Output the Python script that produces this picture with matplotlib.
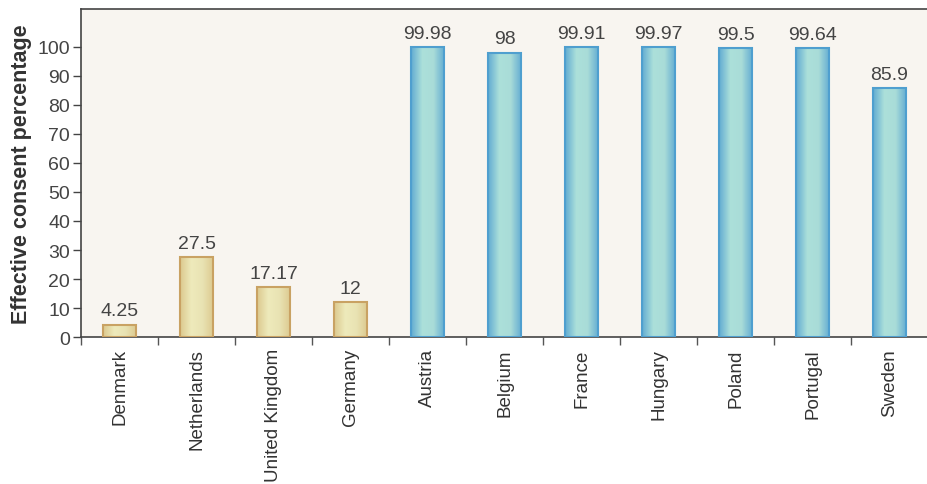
import matplotlib.pyplot as plt
import numpy as np
from matplotlib.colors import LinearSegmentedColormap

plt.rcParams['font.family'] = ['Liberation Sans', 'DejaVu Sans']

countries = ['Denmark', 'Netherlands', 'United Kingdom', 'Germany', 'Austria',
             'Belgium', 'France', 'Hungary', 'Poland', 'Portugal', 'Sweden']
consent = [4.25, 27.5, 17.17, 12, 99.98, 98, 99.91, 99.97, 99.5, 99.64, 85.9]
labels = ['4.25', '27.5', '17.17', '12', '99.98', '98', '99.91', '99.97',
          '99.5', '99.64', '85.9']
opt_in = [True, True, True, True, False, False, False, False, False, False, False]

fig = plt.figure(figsize=(9.28, 4.85), dpi=100)
ax = fig.add_axes([0.0873, 0.303, 0.9127, 0.676])
ax.set_facecolor('#f8f5f0')

x = np.arange(len(countries))
face = ['#e9e3b3' if o else '#a9dcd8' for o in opt_in]
edge = ['#c9a263' if o else '#4f9fcf' for o in opt_in]
bars = ax.bar(x, consent, width=0.44, color=face, edgecolor=edge, linewidth=1.5, zorder=3)

# soft horizontal shading inside each bar
beige = LinearSegmentedColormap.from_list('b', ['#dcc98f', '#eeeabb', '#e9e3b3', '#dcc98f'])
blue = LinearSegmentedColormap.from_list('t', ['#63acd2', '#ace0da', '#a9dcd8', '#63acd2'])
grad = np.linspace(0, 1, 64).reshape(1, -1)
for b, o in zip(bars, opt_in):
    b.set_facecolor('none')
    x0, y0 = b.get_x(), b.get_y()
    im = ax.imshow(grad, cmap=beige if o else blue, aspect='auto', zorder=2,
                   extent=(x0, x0 + b.get_width(), y0, y0 + b.get_height()))
    im.set_clip_path(b)

for xi, v, lab in zip(x, consent, labels):
    ax.text(xi, v + 1.8, lab, ha='center', va='bottom', fontsize=14, color='#444444')

ax.set_xlim(-0.5, 10.39)
ax.set_ylim(0, 113)
ax.set_yticks(range(0, 101, 10))
ax.tick_params(axis='y', labelsize=14, colors='#444444', length=6, width=1, pad=2)
ax.set_xticks(x)
ax.set_xticklabels(countries, rotation=90, fontsize=13.5, color='#333333')
ax.tick_params(axis='x', length=0, pad=8)
ax.set_xticks(np.arange(-0.5, 11, 1), minor=True)
ax.tick_params(axis='x', which='minor', length=6, width=1, color='#555555')

for s in ['left', 'top', 'bottom']:
    ax.spines[s].set_color('#444444')
    ax.spines[s].set_linewidth(1.2)
ax.spines['right'].set_visible(False)

ax.set_ylabel('Effective consent percentage', fontsize=15.5, fontweight='bold',
              color='#333333', labelpad=4)

fig.savefig('out.png', dpi=100)
